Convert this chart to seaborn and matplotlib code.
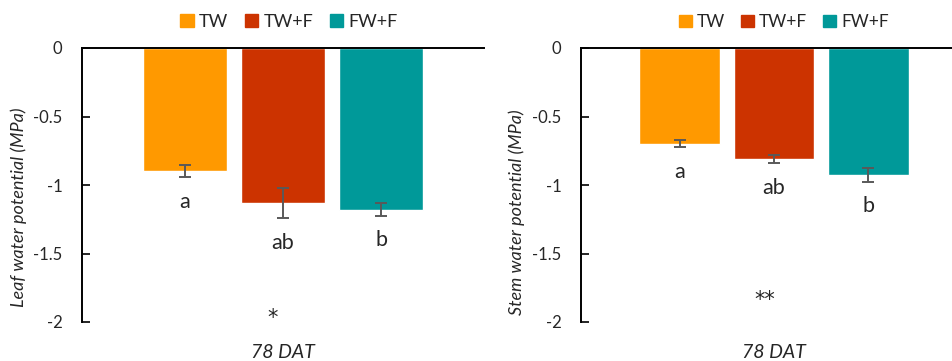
import matplotlib
matplotlib.use("Agg")
import matplotlib.pyplot as plt
import seaborn as sns
import pandas as pd

# ---- data ----
treatments = ["TW", "TW+F", "FW+F"]
day = "78 DAT"
leaf_mean = [-0.90, -1.13, -1.18]
leaf_se = [0.045, 0.11, 0.045]
leaf_letters = ["a", "ab", "b"]
stem_mean = [-0.70, -0.81, -0.925]
stem_se = [0.025, 0.03, 0.05]
stem_letters = ["a", "ab", "b"]
yticks = [0, -0.5, -1, -1.5, -2]
ytick_labels = ["0", "-0.5", "-1", "-1.5", "-2"]
colors = ["#FF9900", "#CC3300", "#009999"]

sns.set_theme(style="white")
plt.rcParams["font.family"] = ["Lato", "DejaVu Sans"]
TXT = "#262626"

fig = plt.figure(figsize=(9.53, 3.61), dpi=100)
W, H = 953, 361


def make_ax(left_px, right_px):
    top_px, bot_px = 48, 322
    return fig.add_axes([left_px / W, (H - bot_px) / H,
                         (right_px - left_px) / W, (bot_px - top_px) / H])


def panel(ax, means, ses, letters, ylabel, stars, star_y, ylabel_x, ylabel_y,
          leg_x, leg_fs, xlab_pad):
    df = pd.DataFrame({"day": [day] * 3, "treatment": treatments, "value": means})
    sns.barplot(data=df, x="day", y="value", hue="treatment", hue_order=treatments,
                palette=colors, width=0.733, gap=0.143, errorbar=None,
                saturation=1, ax=ax, legend=False)
    bars = sorted([p for p in ax.patches if abs(p.get_height()) > 0],
                  key=lambda p: p.get_x())
    for p, m, s, lt in zip(bars, means, ses, letters):
        xc = p.get_x() + p.get_width() / 2
        ax.errorbar(xc, m, yerr=s, fmt="none", ecolor="#595959", elinewidth=1.4,
                    capsize=4, capthick=1.4, zorder=5)
        ax.text(xc, m - s - 0.18, lt, ha="center", va="center", fontsize=15.5, color=TXT)
    ax.text(-0.025, star_y, stars, ha="center", va="center", fontsize=15,
            color=TXT, family="DejaVu Sans")
    ax.set_ylim(-2, 0)
    ax.set_xlim(-0.5, 0.5)
    ax.set_yticks(yticks)
    ax.set_yticklabels(ytick_labels)
    ax.tick_params(axis="y", which="both", left=True, direction="in", length=6,
                   width=1.2, color="#000000", labelsize=12, labelcolor=TXT, pad=14)
    ax.tick_params(axis="x", bottom=False, labelbottom=False)
    for s in ["right", "bottom"]:
        ax.spines[s].set_visible(False)
    for s in ["left", "top"]:
        ax.spines[s].set_visible(True)
        ax.spines[s].set_color("#000000")
        ax.spines[s].set_linewidth(1.4)
    ax.set_xlabel(day, fontsize=14, fontstyle="italic", color=TXT, labelpad=xlab_pad)
    ax.set_ylabel(ylabel, fontsize=13, fontstyle="italic", color=TXT)
    ax.yaxis.set_label_coords(ylabel_x, ylabel_y)
    handles = [plt.Rectangle((0, 0), 1, 1, color=c) for c in colors]
    ax.legend(handles, treatments, ncol=3, loc="lower center",
              bbox_to_anchor=(leg_x, 1.04), frameon=False, fontsize=leg_fs,
              handlelength=0.75, handleheight=0.75, handletextpad=0.3,
              columnspacing=0.9, borderaxespad=0, labelcolor=TXT)


ax1 = make_ax(82, 484)
panel(ax1, leaf_mean, leaf_se, leaf_letters, "Leaf water potential (MPa)", "*", -1.97,
      -0.136, 0.42, 0.515, 13, 16)
ax2 = make_ax(581, 967)
panel(ax2, stem_mean, stem_se, stem_letters, "Stem water potential (MPa)", "**", -1.84,
      -0.145, 0.40, 0.525, 12.5, 16)

fig.savefig("out.png", dpi=100)
